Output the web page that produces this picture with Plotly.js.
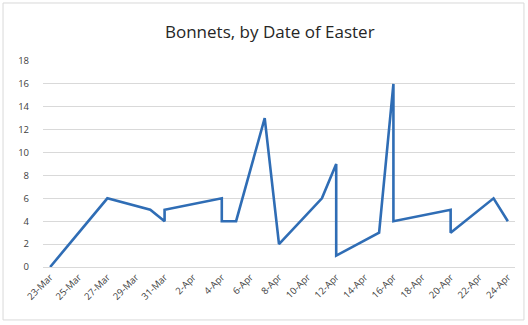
<!DOCTYPE html>
<html>
<head>
<meta charset="utf-8">
<script src="https://cdn.plot.ly/plotly-3.0.1.min.js"></script>
<style>html,body{margin:0;padding:0;background:#fff;}#chart{width:528px;height:325px;}</style>
</head>
<body>
<div id="chart"></div>
<script>
const easterDates = ["2024-03-23","2024-03-27","2024-03-30","2024-03-31","2024-03-31","2024-04-04","2024-04-04","2024-04-05","2024-04-07","2024-04-08","2024-04-11","2024-04-12","2024-04-12","2024-04-15","2024-04-16","2024-04-16","2024-04-20","2024-04-20","2024-04-23","2024-04-24"];
const bonnets = [0,6,5,4,5,6,4,4,13,2,6,9,1,3,16,4,5,3,6,4];
const chartTitle = "Bonnets, by Date of Easter";

const trace = {
  x: easterDates, y: bonnets, type: "scatter", mode: "lines",
  line: {color: "#2f6db5", width: 2.6}, hoverinfo: "x+y"
};
const tickFont = {family: "Open Sans, Liberation Sans, sans-serif", size: 9.5, color: "#404040"};
const layout = {
  width: 528, height: 325,
  margin: {l: 43, r: 13, t: 61, b: 58},
  paper_bgcolor: "#ffffff", plot_bgcolor: "#ffffff",
  showlegend: false,
  title: {text: chartTitle, x: 0.511, xanchor: "center", y: 0.9, yanchor: "middle",
          font: {family: "Open Sans, Liberation Sans, sans-serif", size: 17, color: "#262626"}},
  xaxis: {
    type: "date",
    range: ["2024-03-22 12:00", "2024-04-24 12:00"],
    tick0: "2024-03-23", dtick: 2 * 86400000,
    tickformat: "%-d-%b", tickangle: -45,
    tickfont: tickFont,
    showgrid: false, zeroline: false,
    showline: true, linecolor: "#d9d9d9", linewidth: 1,
    ticks: "", fixedrange: true
  },
  yaxis: {
    range: [0, 18], dtick: 2, tick0: 0,
    tickfont: tickFont, ticklabelstandoff: 13,
    showgrid: true, gridcolor: "#d9d9d9", gridwidth: 1,
    zeroline: false, showline: false, ticks: "", ticklen: 0,
    fixedrange: true
  },
  shapes: [{type: "rect", xref: "paper", yref: "paper",
            x0: -0.0847, x1: 1.019, y0: -0.257, y1: 1.2816,
            line: {color: "#d9d9d9", width: 1}, fillcolor: "rgba(0,0,0,0)", layer: "below"}]
};
Plotly.newPlot("chart", [trace], layout, {displayModeBar: false, staticPlot: true});
</script>
</body>
</html>
